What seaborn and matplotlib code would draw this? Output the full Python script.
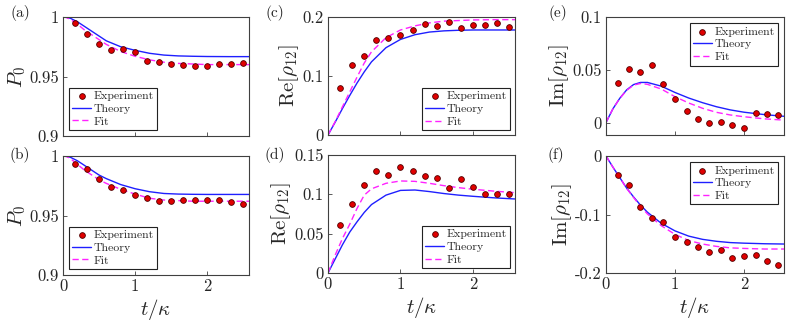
import numpy as np
import pandas as pd
import matplotlib
matplotlib.use("Agg")
import matplotlib.pyplot as plt
import matplotlib.ticker as mticker
import seaborn as sns

# measured points (t in units of kappa)
t_exp = [0.167, 0.333, 0.5, 0.667, 0.833, 1.0, 1.167, 1.333, 1.5, 1.667, 1.833, 2.0, 2.167, 2.333, 2.5]
t_curve = [0, 0.05, 0.1, 0.2, 0.3, 0.4, 0.5, 0.6, 0.8, 1.0, 1.2, 1.4, 1.6, 1.8, 2.0, 2.3, 2.6]

# (a) P0
a_exp = [0.9947, 0.9857, 0.9772, 0.9719, 0.9730, 0.9705, 0.9632, 0.9618, 0.9609, 0.9595, 0.9590, 0.9590, 0.9607, 0.9601, 0.9615]
a_th = [1.0, 0.9997, 0.999, 0.996, 0.992, 0.988, 0.984, 0.980, 0.975, 0.972, 0.9695, 0.968, 0.9673, 0.967, 0.9668, 0.9667, 0.9667]
a_fit = [1.0, 0.9995, 0.998, 0.994, 0.989, 0.985, 0.981, 0.977, 0.971, 0.967, 0.964, 0.962, 0.961, 0.9605, 0.960, 0.960, 0.960]

# (b) P0
b_exp = [0.9936, 0.9888, 0.9804, 0.9742, 0.9714, 0.9675, 0.9644, 0.9622, 0.9625, 0.9628, 0.9628, 0.9633, 0.9628, 0.9611, 0.9600]
b_th = [1.0, 0.9997, 0.999, 0.996, 0.992, 0.988, 0.984, 0.981, 0.976, 0.9725, 0.970, 0.9685, 0.968, 0.9678, 0.9677, 0.9677, 0.9677]
b_fit = [1.0, 0.9995, 0.998, 0.993, 0.988, 0.984, 0.980, 0.977, 0.972, 0.968, 0.9645, 0.963, 0.9625, 0.962, 0.962, 0.962, 0.962]

# (c) Re[rho12]
c_exp = [0.0798, 0.1185, 0.1345, 0.1618, 0.1647, 0.1692, 0.1783, 0.1875, 0.184, 0.1915, 0.181, 0.1863, 0.1869, 0.1897, 0.1823]
c_th = [0, 0.011, 0.022, 0.045, 0.067, 0.088, 0.107, 0.124, 0.148, 0.162, 0.170, 0.1745, 0.1765, 0.1775, 0.178, 0.178, 0.178]
c_fit = [0, 0.0115, 0.023, 0.048, 0.073, 0.098, 0.122, 0.141, 0.165, 0.178, 0.185, 0.190, 0.193, 0.194, 0.195, 0.1955, 0.1955]

# (d) Re[rho12]
d_exp = [0.0608, 0.0878, 0.1122, 0.1295, 0.1245, 0.1342, 0.1291, 0.1236, 0.1207, 0.108, 0.1198, 0.1089, 0.1004, 0.1000, 0.1008]
d_th = [0, 0.009, 0.018, 0.036, 0.052, 0.065, 0.077, 0.087, 0.099, 0.105, 0.1055, 0.1035, 0.101, 0.099, 0.0975, 0.0955, 0.094]
d_fit = [0, 0.0115, 0.023, 0.044, 0.062, 0.082, 0.099, 0.107, 0.114, 0.117, 0.1165, 0.114, 0.111, 0.1085, 0.1065, 0.104, 0.102]

# (e) Im[rho12]
e_exp = [0.0370, 0.0503, 0.0481, 0.0541, 0.0367, 0.0225, 0.0111, 0.0035, -0.0003, 0.0003, -0.0025, -0.0051, 0.0089, 0.0085, 0.0073]
e_th = [0, 0.0065, 0.013, 0.023, 0.031, 0.036, 0.038, 0.038, 0.0345, 0.0285, 0.0232, 0.0188, 0.015, 0.012, 0.0098, 0.0075, 0.0058]
e_fit = [0, 0.0065, 0.013, 0.023, 0.0305, 0.0355, 0.037, 0.0362, 0.0318, 0.0245, 0.0185, 0.0135, 0.0097, 0.0072, 0.0055, 0.0035, 0.0022]

# (f) Im[rho12]
f_exp = [-0.033, -0.0494, -0.0869, -0.1063, -0.1125, -0.1381, -0.1466, -0.1557, -0.1636, -0.1602, -0.175, -0.171, -0.1693, -0.179, -0.187]
f_th = [0, -0.0095, -0.019, -0.037, -0.055, -0.070, -0.084, -0.096, -0.115, -0.128, -0.137, -0.1425, -0.1458, -0.148, -0.149, -0.150, -0.1505]
f_fit = [0, -0.0095, -0.019, -0.037, -0.0555, -0.071, -0.086, -0.099, -0.119, -0.134, -0.1445, -0.1505, -0.1545, -0.157, -0.158, -0.159, -0.159]

sns.set_style("ticks")
plt.rcParams['font.family'] = ['cmr10', 'DejaVu Serif']
plt.rcParams['mathtext.fontset'] = 'cm'
plt.rcParams['axes.unicode_minus'] = False
plt.rcParams['axes.formatter.use_mathtext'] = True

W, H = 793, 324
fig = plt.figure(figsize=(W / 100, H / 100), dpi=100)

def box(l, r, t, b):
    return [l / W, 1 - b / H, (r - l) / W, (b - t) / H]

panels = [
    # label, exp, th, fit, rect, ylim, yticks, ylabel, legend loc, top row, label pos
    ("(a)", a_exp, a_th, a_fit, box(63, 249, 17, 136), (0.9, 1.0), [0.9, 0.95, 1.0], r"$P_0$", "lower left", True, (20, 13)),
    ("(b)", b_exp, b_th, b_fit, box(63, 249, 156, 275), (0.9, 1.0), [0.9, 0.95, 1.0], r"$P_0$", "lower left", False, (20, 155)),
    ("(c)", c_exp, c_th, c_fit, box(328, 515, 17, 135), (0, 0.2), [0, 0.1, 0.2], r"$\mathrm{Re}[\rho_{12}]$", "lower right", True, (275, 13)),
    ("(d)", d_exp, d_th, d_fit, box(328, 515, 155, 273), (0, 0.15), [0, 0.05, 0.1, 0.15], r"$\mathrm{Re}[\rho_{12}]$", "lower right", False, (275, 155)),
    ("(e)", e_exp, e_th, e_fit, box(606, 784, 17, 135), (-0.0118, 0.1), [0, 0.05, 0.1], r"$\mathrm{Im}[\rho_{12}]$", "upper right", True, (558, 13)),
    ("(f)", f_exp, f_th, f_fit, box(606, 784, 156, 273), (-0.2, 0), [-0.2, -0.1, 0], r"$\mathrm{Im}[\rho_{12}]$", "upper right", False, (556, 155)),
]

spine_col = '#404040'
for lab, yexp, yth, yfit, rect, ylim, yticks, ylabel, loc, top, lpos in panels:
    ax = fig.add_axes(rect)
    sns.scatterplot(x=t_exp, y=yexp, ax=ax, color='#e00000', edgecolor='#500000',
                    linewidth=0.6, s=17, label='Experiment', zorder=3)
    sns.lineplot(x=t_curve, y=yth, ax=ax, color='#1f1fff', lw=1.0, label='Theory', zorder=2)
    sns.lineplot(x=t_curve, y=yfit, ax=ax, color='#ff22ff', lw=1.0, ls=(0, (4.5, 2.5)), label='Fit', zorder=2)
    ax.set_xlim(0, 2.58)
    ax.set_ylim(*ylim)
    ax.set_xticks([0, 1, 2])
    ax.set_yticks(yticks)
    ax.yaxis.set_major_formatter(mticker.FormatStrFormatter('%g'))
    ax.xaxis.set_major_formatter(mticker.FormatStrFormatter('%g'))
    ax.tick_params(direction='in', length=3, width=0.6, color=spine_col, labelsize=12, pad=3)
    for sp in ax.spines.values():
        sp.set_color(spine_col)
        sp.set_linewidth(0.8)
    if top:
        ax.set_xticklabels([])
        ax.set_xlabel('')
    else:
        ax.set_xlabel(r"$t/\kappa$", fontsize=15, labelpad=2)
    ax.set_ylabel(ylabel, fontsize=15, labelpad=1)
    leg = ax.legend(loc=loc, fontsize=8.5, frameon=True, fancybox=False, edgecolor='#222222',
                    framealpha=1, borderpad=0.3, labelspacing=0.2, handlelength=1.6,
                    handletextpad=0.2, borderaxespad=0.5 if loc != 'lower right' else 0.4)
    leg.get_frame().set_linewidth(0.8)
    fig.text(lpos[0] / W, 1 - lpos[1] / H, lab, fontsize=11, ha='center', va='center')

fig.savefig('out.png', dpi=100)
